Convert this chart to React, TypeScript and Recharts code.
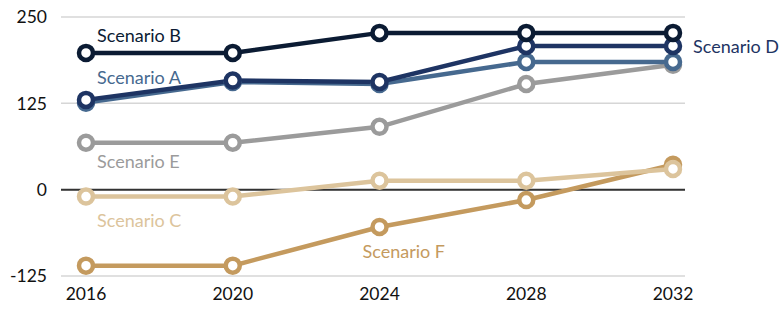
import React from "react";
import {
  LineChart,
  Line,
  XAxis,
  YAxis,
  CartesianGrid,
  ReferenceLine,
  LabelList,
} from "recharts";

const years = [2016, 2020, 2024, 2028, 2032];
const scenarioA = [126, 156, 153, 185, 185];
const scenarioB = [198, 198, 227, 227, 227];
const scenarioC = [-10, -10, 13, 13, 30];
const scenarioD = [130, 158, 156, 208, 208];
const scenarioE = [68, 68, 91, 153, 181];
const scenarioF = [-110, -110, -54, -15, 36];
const yTicks = [-125, 0, 125, 250];

const FONT = "Lato, 'Open Sans', sans-serif";

// order = draw order, last on top
const series = [
  { key: "F", label: "Scenario F", values: scenarioF, color: "#c49a5e", labelAt: 2, dx: -17, dy: 31 },
  { key: "C", label: "Scenario C", values: scenarioC, color: "#dcc49c", labelAt: 0, dx: 11, dy: 30 },
  { key: "E", label: "Scenario E", values: scenarioE, color: "#9b9b9b", labelAt: 0, dx: 11, dy: 25 },
  { key: "A", label: "Scenario A", values: scenarioA, color: "#46698f", labelAt: 0, dx: 11, dy: -19 },
  { key: "D", label: "Scenario D", values: scenarioD, color: "#1e3463", labelAt: 4, dx: 20, dy: 7 },
  { key: "B", label: "Scenario B", values: scenarioB, color: "#0b1b33", labelAt: 0, dx: 11, dy: -11 },
];

const data = years.map((year, i) => {
  const row: Record<string, number> = { year };
  series.forEach((s) => {
    row[s.key] = s.values[i];
  });
  return row;
});

function makeLabel(s: (typeof series)[number]) {
  return (props: any) => {
    if (props.index !== s.labelAt) return null;
    return (
      <text
        x={props.x + s.dx}
        y={props.y + s.dy}
        fill={s.color}
        fontSize={18}
        fontFamily={FONT}
      >
        {s.label}
      </text>
    );
  };
}

export default function App() {
  return (
    <div style={{ position: "absolute", left: 0, top: 0 }}>
      <LineChart
        width={781}
        height={314}
        data={data}
        margin={{ top: 17, right: 96, bottom: 0, left: 0 }}
      >
        <CartesianGrid vertical={false} stroke="#d6d6d6" strokeWidth={1.5} />
        <XAxis
          dataKey="year"
          type="number"
          domain={[2016, 2032]}
          ticks={years}
          padding={{ left: 25, right: 12 }}
          axisLine={false}
          tickLine={false}
          height={38}
          tick={{ fill: "#111", fontSize: 17.5, fontFamily: FONT }}
          tickMargin={6}
        />
        <YAxis
          domain={[-125, 250]}
          ticks={yTicks}
          axisLine={false}
          tickLine={false}
          width={61}
          tick={{ fill: "#111", fontSize: 17.5, fontFamily: FONT }}
          tickMargin={8}
        />
        <ReferenceLine y={0} stroke="#333" strokeWidth={2} />
        {series.map((s) => (
          <Line
            key={s.key}
            dataKey={s.key}
            stroke={s.color}
            strokeWidth={4.5}
            dot={{ r: 7, fill: "#fff", stroke: s.color, strokeWidth: 4.5 }}
            activeDot={false}
            isAnimationActive={false}
          >
            <LabelList content={makeLabel(s)} />
          </Line>
        ))}
      </LineChart>
    </div>
  );
}
